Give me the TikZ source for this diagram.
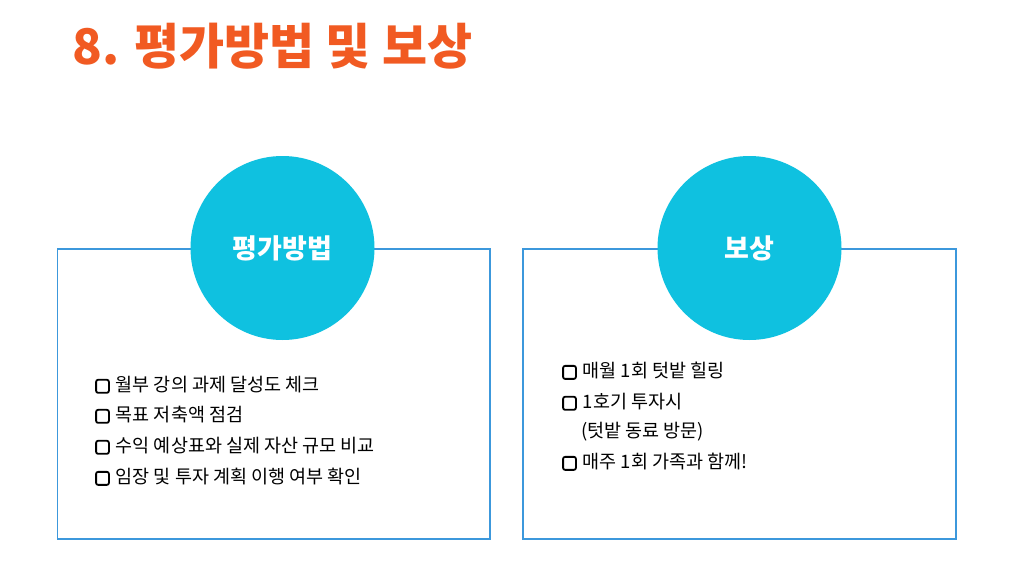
\documentclass[tikz,border=0pt]{standalone}
\usepackage{fontspec}
\newfontfamily\kr{Noto Sans CJK KR}
\definecolor{titleor}{HTML}{F15A22}
\definecolor{circcy}{HTML}{0FC1E0}
\definecolor{boxbl}{HTML}{3C98DC}
\tikzset{
  panel/.style={draw=boxbl, line width=1.5pt, fill=white},
  badge/.style={circle, fill=circcy, minimum size=184pt, inner sep=0pt, text=white, font=\kr\bfseries\fontsize{27}{31}\selectfont},
  item/.style={anchor=west, inner sep=0pt, font=\kr\fontsize{18.5}{22}\selectfont, text=black},
  titletext/.style={anchor=west, inner sep=0pt, font=\kr\bfseries\fontsize{49}{55}\selectfont, text=titleor},
  chk/.style={draw=black, line width=1.8pt, rounded corners=2pt}
}
\newcommand{\bx}{\tikz[baseline=0pt]\draw[chk] (1.5pt,-1.2pt) rectangle (14.3pt,11.8pt);\hspace{6pt}}
\begin{document}
\begin{tikzpicture}[x=1pt,y=-1pt]
\useasboundingbox (0,0) rectangle (1014,570);
\fill[white] (0,0) rectangle (1014,570);
\node[titletext] (title) at (72,46) {8. 평가방법 및 보상};
% left panel
\draw[panel] (57.5,249) rectangle (490,539);
\node[badge] (c1) at (282.5,248) {평가방법};
\node[item] (l1) at (95,385) {\bx 월부 강의 과제 달성도 체크};
\node[item] (l2) at (95,415) {\bx 목표 저축액 점검};
\node[item] (l3) at (95,446) {\bx 수익 예상표와 실제 자산 규모 비교};
\node[item] (l4) at (95,477) {\bx 임장 및 투자 계획 이행 여부 확인};
% right panel
\draw[panel] (523,249) rectangle (956,539);
\node[badge] (c2) at (749.5,248) {보상};
\node[item] (r1) at (562,371) {\bx 매월 1회 텃밭 힐링};
\node[item] (r2) at (562,402) {\bx 1호기 투자시};
\node[item] (r3) at (581,432) {(텃밭 동료 방문)};
\node[item] (r4) at (562,462) {\bx 매주 1회 가족과 함께!};
\end{tikzpicture}
\end{document}
